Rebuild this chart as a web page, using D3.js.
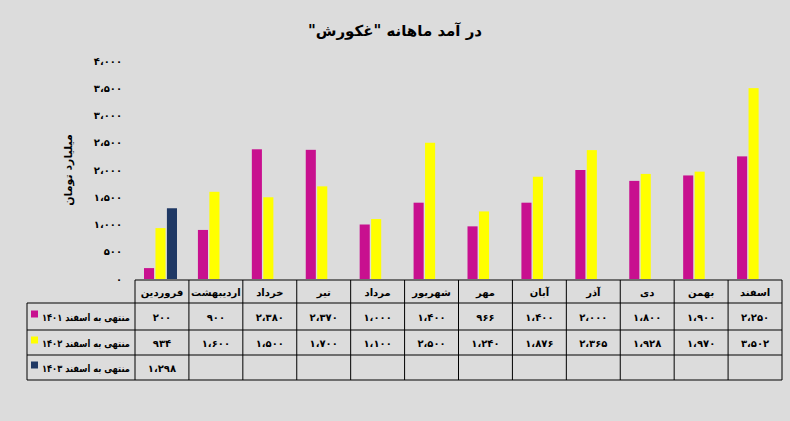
<!DOCTYPE html><html><head><meta charset="utf-8">
<script src="https://cdn.jsdelivr.net/npm/d3@7"></script>
<style>body{margin:0;background:#dcdcdc}svg{font-family:"DejaVu Sans",sans-serif;font-weight:bold}text{direction:rtl;unicode-bidi:embed}</style></head><body>
<svg id="c" width="790" height="421"></svg>
<script>
const months=["فروردین","اردیبهشت","خرداد","تیر","مرداد","شهریور","مهر","آبان","آذر","دی","بهمن","اسفند"];
const s1401=[200,900,2380,2370,1000,1400,966,1400,2000,1800,1900,2250];
const s1402=[934,1600,1500,1700,1100,2500,1240,1876,2365,1928,1970,3502];
const s1403=[1298,null,null,null,null,null,null,null,null,null,null,null];
const seriesNames=["منتهی به اسفند ۱۴۰۱","منتهی به اسفند ۱۴۰۲","منتهی به اسفند ۱۴۰۳"];
const colors=["#c8108f","#ffff00","#1f3864"];
const yTicks=[0,500,1000,1500,2000,2500,3000,3500,4000];
const fa=n=>{let s=String(n);if(n>=1000)s=s.slice(0,-3)+"،"+s.slice(-3);return s.replace(/\d/g,d=>"۰۱۲۳۴۵۶۷۸۹"[d]);};
const svg=d3.select("#c");
svg.append("rect").attr("width",790).attr("height",421).attr("fill","#dcdcdc");
const x=d3.scaleBand().domain(months).range([135,782]);
const sub=d3.scaleBand().domain([0,1,2]).range([9,42]).paddingInner(0.12);
const y=d3.scaleLinear().domain([0,4000]).range([279,61]);
svg.append("text").attr("x",395).attr("y",36).attr("text-anchor","middle").attr("font-size",15).text('در آمد ماهانه "غکورش"');
const ya=svg.append("g").attr("transform","translate(125,0)").call(d3.axisLeft(y).tickValues(yTicks).tickSize(0).tickFormat(d=>d%1000===0&&d>0?fa(d/1000)+"،۰۰۰":fa(d)));
ya.select(".domain").remove();ya.selectAll("text").attr("font-size",10).attr("font-family","DejaVu Sans").attr("font-weight","bold").attr("text-anchor","start");
svg.append("text").attr("transform","translate(72,170) rotate(-90)").attr("text-anchor","middle").attr("font-size",11).text("میلیارد تومان");
[s1401,s1402,s1403].forEach((s,i)=>{
 svg.append("g").selectAll("rect").data(months.map((m,j)=>({m,v:s[j]})).filter(d=>d.v!=null)).join("rect")
 .attr("x",d=>x(d.m)+sub(i)).attr("width",sub.bandwidth()).attr("y",d=>y(d.v)).attr("height",d=>y(0)-y(d.v)).attr("fill",colors[i]);
});
const rows=[280,303,330,355,380];
const t=svg.append("g").attr("fill","none").attr("stroke","#000").attr("stroke-width",1);
t.append("line").attr("x1",135).attr("x2",782).attr("y1",rows[0]).attr("y2",rows[0]);
rows.slice(1).forEach(r=>t.append("line").attr("x1",27).attr("x2",782).attr("y1",r).attr("y2",r));
t.append("line").attr("x1",27).attr("x2",27).attr("y1",rows[1]).attr("y2",rows[4]);
[...months.map(m=>x(m)),782].forEach(xx=>t.append("line").attr("x1",xx).attr("x2",xx).attr("y1",rows[0]).attr("y2",rows[4]));
months.forEach(m=>svg.append("text").attr("x",x(m)+x.bandwidth()/2).attr("y",296).attr("text-anchor","middle").attr("font-size",10).text(m));
[s1401,s1402,s1403].forEach((s,i)=>{
 const cy=(rows[i+1]+rows[i+2])/2+4;
 svg.append("rect").attr("x",31).attr("y",cy-10).attr("width",7).attr("height",7).attr("fill",colors[i]);
 svg.append("text").attr("x",130).attr("y",cy).attr("text-anchor","start").attr("font-size",10).attr("textLength",88).attr("lengthAdjust","spacingAndGlyphs").text(seriesNames[i]);
 s.forEach((v,j)=>{if(v!=null)svg.append("text").attr("x",x(months[j])+x.bandwidth()/2).attr("y",cy).attr("text-anchor","middle").attr("font-size",10).text(fa(v));});
});
</script></body></html>
